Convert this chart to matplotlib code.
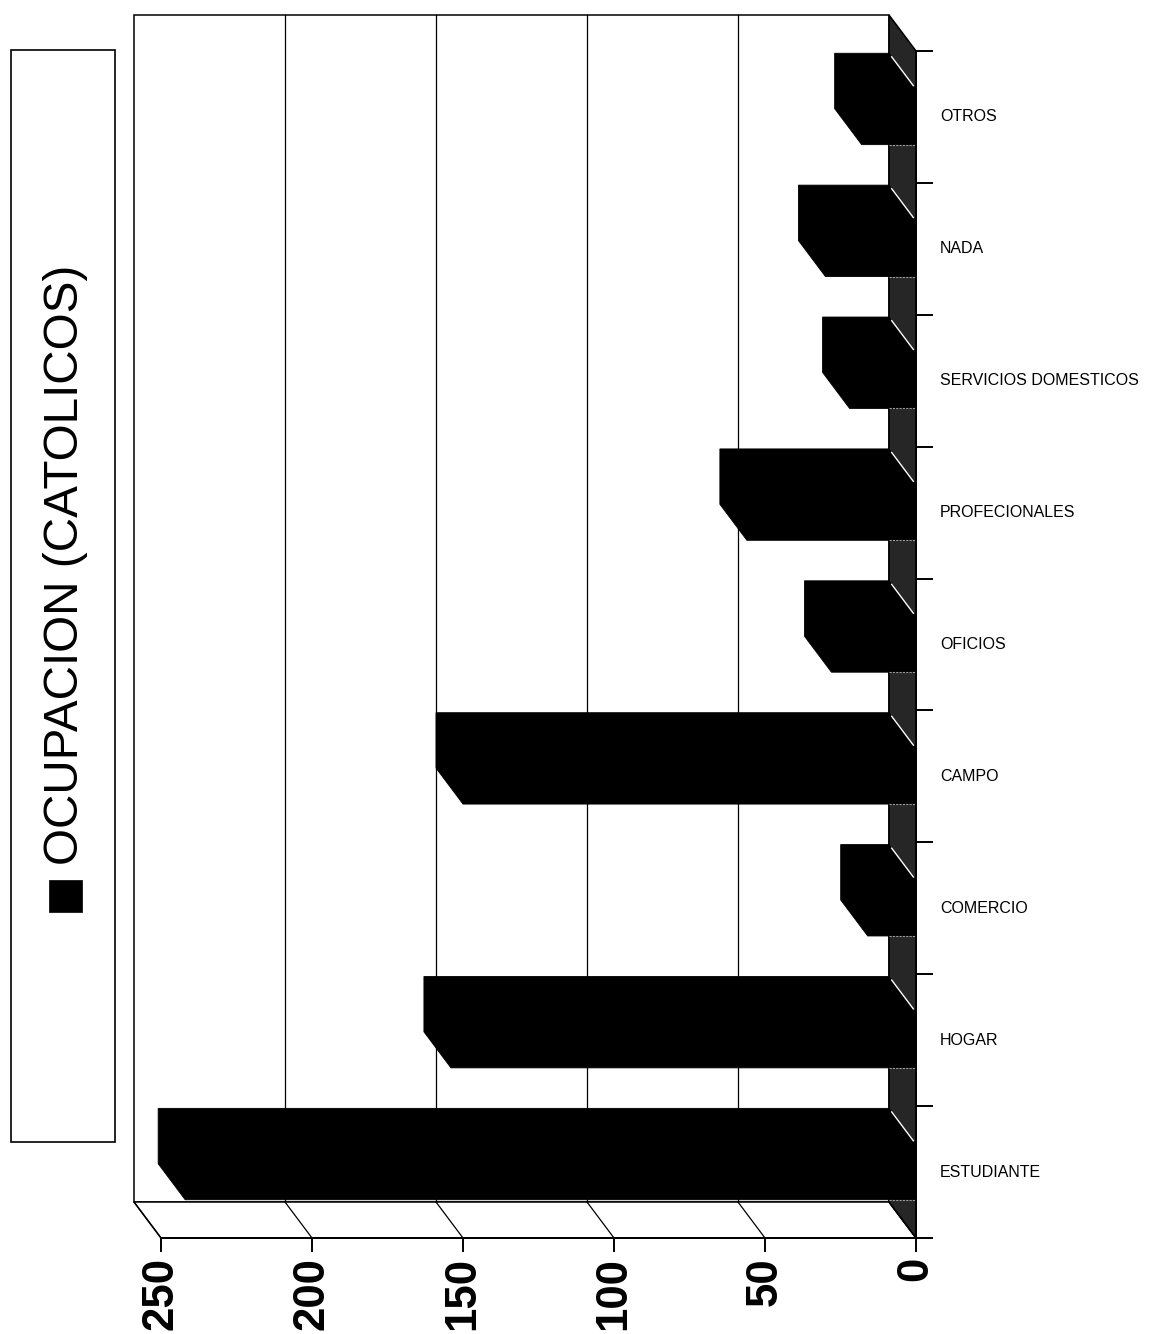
import matplotlib
matplotlib.use("Agg")
import matplotlib.pyplot as plt
from matplotlib.patches import Polygon, Rectangle
import numpy as np

# data (bottom to top)
categories = ['ESTUDIANTE', 'HOGAR', 'COMERCIO', 'CAMPO', 'OFICIOS',
              'PROFECIONALES', 'SERVICIOS DOMESTICOS', 'NADA', 'OTROS']
values = [242, 154, 16, 150, 28, 56, 22, 30, 18]
value_ticks = [0, 50, 100, 150, 200, 250]
legend_label = 'OCUPACION (CATOLICOS)'

W, H = 1149, 1334
fig = plt.figure(figsize=(W / 100, H / 100), dpi=100)
fig.patch.set_facecolor('white')

# front plane of the (rotated) 3D chart
left, right, top, bottom = 161, 916, 51, 1238
ax = fig.add_axes([left / W, 1 - bottom / H, (right - left) / W, (bottom - top) / H])
vmax = 250
ncat = len(categories)
ax.set_xlim(vmax, 0)
ax.set_ylim(0, ncat)
ax.axis('off')

# depth offset (front -> back) in pixels, turned into data units
depth_px = (-27, 36)
p0 = ax.transData.transform((0, 0))
dv, dc = ax.transData.inverted().transform(p0 + np.array(depth_px))
px_v = dv / 27.0   # value units per pixel (positive = to the left)
px_c = dc / 36.0   # category units per pixel (positive = upwards)

lw = 1.1
fill_kw = dict(clip_on=False, joinstyle='miter')

# back wall
ax.add_patch(Polygon([(dv, dc), (vmax + dv, dc), (vmax + dv, ncat + dc), (dv, ncat + dc)],
                     closed=True, facecolor='white', edgecolor='black', lw=lw, **fill_kw))
for v in value_ticks[1:-1]:
    ax.plot([v + dv, v + dv], [dc, ncat + dc], color='black', lw=0.9, clip_on=False)

# side wall (bottom strip) with its grid lines
ax.add_patch(Polygon([(0, 0), (vmax, 0), (vmax + dv, dc), (dv, dc)],
                     closed=True, facecolor='white', edgecolor='black', lw=lw, **fill_kw))
for v in value_ticks:
    ax.plot([v, v + dv], [0, dc], color='black', lw=0.9, clip_on=False)

# floor (right strip)
ax.add_patch(Polygon([(0, 0), (0, ncat), (dv, ncat + dc), (dv, dc)],
                     closed=True, facecolor='#262626', edgecolor='black', lw=lw, **fill_kw))

# bars
bw = 0.42
for i, v in enumerate(values):
    lo = i + 0.5 - bw / 2
    hi = i + 0.5 + bw / 2
    verts = [(v + dv, hi + dc), (dv, hi + dc), (0, hi), (0, lo), (v, lo), (v + dv, lo + dc)]
    ax.add_patch(Polygon(verts, closed=True, facecolor='black', edgecolor='black',
                         lw=0.6, **fill_kw))
    ax.plot([dv * 0.9, dv * 0.1], [hi + dc * 0.9, hi + dc * 0.1],
            color='white', lw=1.0, clip_on=False)
    ax.plot([dv, 0], [lo, lo], color='#9a9a9a', lw=0.8, ls=(0, (2, 1)), clip_on=False)

# front value axis
ax.plot([vmax, -16 * px_v], [0, 0], color='black', lw=1.4, clip_on=False)
for v in value_ticks:
    ax.plot([v, v], [0, -13 * px_c], color='black', lw=1.4, clip_on=False)
    ax.text(v, -19 * px_c, str(v), rotation=90, ha='center', va='top',
            fontsize=31.5, fontweight='bold', family=['Liberation Sans', 'DejaVu Sans'])

# front category axis
ax.plot([0, 0], [0, ncat], color='black', lw=1.4, clip_on=False)
for k in range(1, ncat + 1):
    ax.plot([0, -16 * px_v], [k, k], color='black', lw=1.4, clip_on=False)
for i, name in enumerate(categories):
    ax.text(-24 * px_v, i + 0.5, name, ha='left', va='center', fontsize=11.5,
            family=['Liberation Sans', 'DejaVu Sans'])

# legend box on the left
fig.patches.append(Rectangle((11 / W, 1 - 1142 / H), 104 / W, 1092 / H,
                             transform=fig.transFigure, facecolor='white',
                             edgecolor='black', lw=1.2))
fig.patches.append(Rectangle((49 / W, 1 - 912 / H), 33 / W, 32 / H,
                             transform=fig.transFigure, facecolor='black',
                             edgecolor='black', lw=0.5))
fig.text(66 / W, 1 - 865 / H, legend_label, rotation=90, ha='center', va='bottom',
         fontsize=34.3, family=['Liberation Sans', 'DejaVu Sans'])

fig.savefig('out.png', dpi=100, facecolor='white')
